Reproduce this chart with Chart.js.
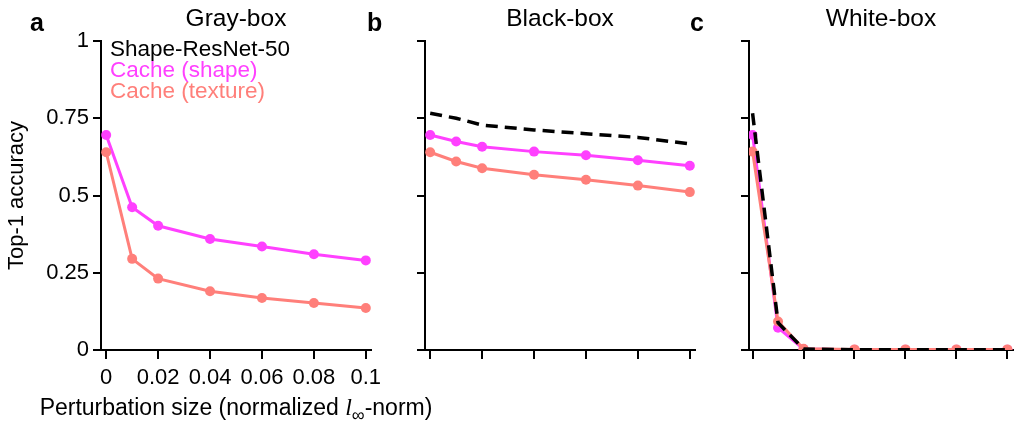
<!DOCTYPE html>
<html>
<head>
<meta charset="utf-8">
<script src="https://cdn.jsdelivr.net/npm/chart.js@4.4.1/dist/chart.umd.min.js"></script>
<style>
  html, body { margin: 0; padding: 0; background: #fff; }
  #wrap { position: relative; width: 1018px; height: 421px; overflow: hidden; }
  #wrap canvas { position: absolute; left: 0; top: 0; }
</style>
</head>
<body>
<div id="wrap">
  <canvas id="gray" width="1018" height="421"></canvas>
  <canvas id="black" width="1018" height="421"></canvas>
  <canvas id="white" width="1018" height="421"></canvas>
</div>
<script>
// perturbation sizes (x values)
const perturb = [0, 0.01, 0.02, 0.04, 0.06, 0.08, 0.1];
const xTicks = [0, 0.02, 0.04, 0.06, 0.08, 0.1];
const xTickLabels = ["0", "0.02", "0.04", "0.06", "0.08", "0.1"];
const yTicks = [0, 0.25, 0.5, 0.75, 1];
const yTickLabels = ["0", "0.25", "0.5", "0.75", "1"];

// a: Gray-box
const grayShape = [0.696, 0.462, 0.402, 0.359, 0.335, 0.310, 0.290];
const grayTexture = [0.640, 0.295, 0.231, 0.190, 0.168, 0.152, 0.136];
// b: Black-box
const blackResnet = [0.766, 0.750, 0.728, 0.712, 0.700, 0.688, 0.667];
const blackShape = [0.696, 0.675, 0.658, 0.642, 0.630, 0.614, 0.596];
const blackTexture = [0.640, 0.610, 0.588, 0.567, 0.551, 0.532, 0.511];
// c: White-box
const whiteResnet = [0.766, 0.088, 0.003, 0.001, 0.001, 0.001, 0.001];
const whiteShape = [0.696, 0.072, 0.003, 0.001, 0.001, 0.001, 0.001];
const whiteTexture = [0.642, 0.092, 0.004, 0.002, 0.002, 0.002, 0.002];

const seriesNames = ["Shape-ResNet-50", "Cache (shape)", "Cache (texture)"];
const seriesColors = ["#000000", "#ff40ff", "#ff7f7a"];

const FONT = '"Liberation Sans", Arial, Helvetica, sans-serif';

const pts = (vals) => vals.map((v, i) => ({ x: perturb[i], y: v }));

function resnetSet(vals) {
  return {
    label: seriesNames[0],
    data: pts(vals),
    borderColor: seriesColors[0],
    borderWidth: 3.5,
    borderDash: [12, 7],
    pointRadius: 0,
    fill: false,
  };
}
function cacheSet(idx, vals) {
  return {
    label: seriesNames[idx],
    data: pts(vals),
    borderColor: seriesColors[idx],
    backgroundColor: seriesColors[idx],
    pointBackgroundColor: seriesColors[idx],
    pointBorderWidth: 0,
    borderWidth: 3,
    pointRadius: 5,
    fill: false,
  };
}

// panel letter, title, legend and x title
const panelText = {
  id: "panelText",
  afterDraw(chart, args, opts) {
    const ctx = chart.ctx;
    const a = chart.chartArea;
    ctx.save();
    ctx.fillStyle = "#000";
    ctx.textBaseline = "alphabetic";
    ctx.textAlign = "left";
    ctx.font = "bold 25px " + FONT;
    ctx.fillText(opts.letter, opts.letterX, 31);
    ctx.textAlign = "center";
    ctx.font = "24.5px " + FONT;
    ctx.fillText(opts.title, (a.left + a.right) / 2, 26);

    if (opts.legend) {
      ctx.textAlign = "left";
      ctx.font = "22.5px " + FONT;
      seriesNames.forEach((n, i) => {
        ctx.fillStyle = seriesColors[i];
        ctx.fillText(n, a.left + 9, 56 + i * 21);
      });
    }

    if (opts.xTitle) {
      const parts = [
        { t: "Perturbation size (normalized ", f: "23px " + FONT, dy: 0 },
        { t: "l", f: 'italic 24px "Liberation Serif", serif', dy: 0 },
        { t: "\u221e", f: "18px " + FONT, dy: 6 },
        { t: "-norm)", f: "23px " + FONT, dy: 0 },
      ];
      let total = 0;
      parts.forEach((p) => {
        ctx.font = p.f;
        p.w = ctx.measureText(p.t).width;
        total += p.w;
      });
      let x = (a.left + a.right) / 2 - total / 2;
      ctx.fillStyle = "#000";
      ctx.textAlign = "left";
      parts.forEach((p) => {
        ctx.font = p.f;
        ctx.fillText(p.t, x, 415 + p.dy);
        x += p.w;
      });
    }
    ctx.restore();
  },
};

function makeChart(id, datasets, cfg) {
  new Chart(document.getElementById(id), {
    type: "line",
    data: { datasets: datasets },
    plugins: [panelText],
    options: {
      responsive: false,
      animation: false,
      layout: { padding: cfg.padding },
      plugins: {
        legend: { display: false },
        tooltip: { enabled: false },
        panelText: cfg.text,
      },
      scales: {
        x: {
          type: "linear",
          min: cfg.xMin,
          max: cfg.xMax,
          afterBuildTicks: (s) => { s.ticks = xTicks.map((v) => ({ value: v })); },
          afterFit: (s) => { s.height = 50; },
          grid: { drawOnChartArea: false, tickLength: 9, color: "#000", lineWidth: 2 },
          border: { color: "#000", width: 2 },
          ticks: {
            display: cfg.labels,
            color: "#000",
            padding: 6,
            maxRotation: 0,
            font: { family: FONT, size: 22 },
            callback: (v, i) => xTickLabels[i],
          },
        },
        y: {
          min: 0,
          max: 1,
          afterBuildTicks: (s) => { s.ticks = yTicks.map((v) => ({ value: v })); },
          afterFit: (s) => { s.width = cfg.yWidth; },
          grid: { drawOnChartArea: false, tickLength: 8, color: "#000", lineWidth: 2 },
          border: { color: "#000", width: 2 },
          title: {
            display: cfg.labels,
            text: "Top-1 accuracy",
            color: "#000",
            padding: 4,
            font: { family: FONT, size: 22 },
          },
          ticks: {
            display: cfg.labels,
            color: "#000",
            padding: 4,
            font: { family: FONT, size: 22 },
            callback: (v, i) => yTickLabels[i],
          },
        },
      },
    },
  });
}

makeChart("gray", [cacheSet(2, grayTexture), cacheSet(1, grayShape)], {
  padding: { left: 0, right: 647, top: 41, bottom: 21 },
  yWidth: 101, xMin: -0.002, xMax: 0.102, labels: true,
  text: { letter: "a", letterX: 30, title: "Gray-box", legend: true, xTitle: true },
});

makeChart("black", [resnetSet(blackResnet), cacheSet(2, blackTexture), cacheSet(1, blackShape)], {
  padding: { left: 385, right: 323, top: 41, bottom: 21 },
  yWidth: 40, xMin: -0.002, xMax: 0.102, labels: false,
  text: { letter: "b", letterX: 367, title: "Black-box" },
});

makeChart("white", [resnetSet(whiteResnet), cacheSet(2, whiteTexture), cacheSet(1, whiteShape)], {
  padding: { left: 709, right: 0, top: 41, bottom: 21 },
  yWidth: 40, xMin: -0.0014, xMax: 0.1022, labels: false,
  text: { letter: "c", letterX: 690, title: "White-box" },
});
</script>
</body>
</html>
